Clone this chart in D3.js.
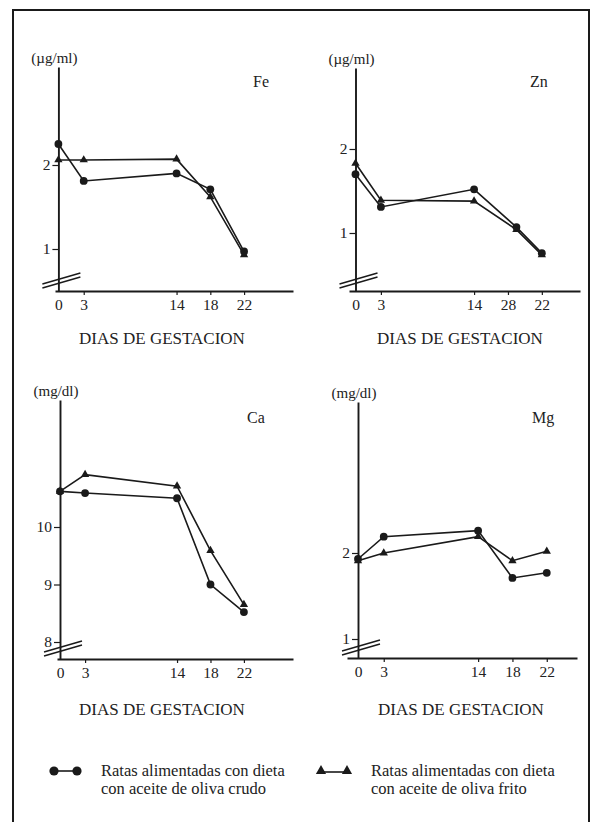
<!DOCTYPE html>
<html>
<head>
<meta charset="utf-8">
<script src="https://cdn.jsdelivr.net/npm/d3@7"></script>
<style>
    body { margin: 0; background: #fff; }
    svg { display: block; }
    text { font-family: "Liberation Serif", "Times New Roman", "DejaVu Serif", serif; fill: #222; }
</style>
</head>
<body>
<div class="chart"></div>
<script>
// days of gestation (x values) and the tick labels printed under each axis
const days = [0, 3, 14, 18, 22];
const znDays = [0, 3, 14, 19, 22];   // in the Zn panel the 4th point sits a bit right of its tick
const dayLabels = ["0", "3", "14", "18", "22"];
const znDayLabels = ["0", "3", "14", "28", "22"];

// crudo = raw olive oil (circles), frito = fried olive oil (triangles)
const feCrudo = [2.25, 1.81, 1.90, 1.71, 0.97];
const feFrito = [2.06, 2.06, 2.07, 1.62, 0.93];
const znCrudo = [1.70, 1.31, 1.52, 1.07, 0.76];
const znFrito = [1.83, 1.39, 1.38, 1.04, 0.74];
const caCrudo = [10.62, 10.59, 10.50, 9.00, 8.52];
const caFrito = [10.62, 10.91, 10.71, 9.59, 8.65];
const mgCrudo = [1.93, 2.19, 2.26, 1.71, 1.77];
const mgFrito = [1.91, 2.00, 2.19, 1.91, 2.02];

const feTicks = [1, 2];
const znTicks = [1, 2];
const caTicks = [8, 9, 10];
const mgTicks = [1, 2];

const xTitle = "DIAS DE GESTACION";
const legendCrudo = ["Ratas alimentadas con dieta", "con aceite de oliva crudo"];
const legendFrito = ["Ratas alimentadas con dieta", "con aceite de oliva frito"];

let W = 594, H = 822;
let ink = "#1a1a1a";

let svg = d3.select(".chart")
    .append("svg")
    .attr("width", W)
    .attr("height", H);

svg.append("rect").attr("width", W).attr("height", H).attr("fill", "#fff");

// frame (the bottom edge is cut off in the scan)
svg.append("path")
    .attr("d", "M13," + (H + 5) + "V10H589V" + (H + 5))
    .attr("fill", "none")
    .attr("stroke", ink)
    .attr("stroke-width", 2);

let panels = [
    {name: "Fe", unit: "(µg/ml)", days: days, labels: dayLabels, crudo: feCrudo, frito: feFrito, ticks: feTicks,
        x0: 58.4, k: 8.44, axL: 55, axR: 293, axisY: 291, topY: 67, ref: [1, 249, 2, 165],
        nameX: 253, nameY: 87, titleX: 162, titleY: 344},
    {name: "Zn", unit: "(µg/ml)", days: znDays, labels: znDayLabels, crudo: znCrudo, frito: znFrito, ticks: znTicks,
        x0: 355.5, k: 8.47, axL: 349, axR: 580, axisY: 291, topY: 68, ref: [1, 233, 2, 149],
        nameX: 530, nameY: 87, titleX: 460, titleY: 344},
    {name: "Ca", unit: "(mg/dl)", days: days, labels: dayLabels, crudo: caCrudo, frito: caFrito, ticks: caTicks,
        x0: 60, k: 8.36, axL: 57, axR: 293, axisY: 659, topY: 400, ref: [8, 642, 10, 527],
        nameX: 247, nameY: 423, titleX: 162, titleY: 715},
    {name: "Mg", unit: "(mg/dl)", days: days, labels: dayLabels, crudo: mgCrudo, frito: mgFrito, ticks: mgTicks,
        x0: 358, k: 8.58, axL: 347, axR: 577, axisY: 658, topY: 402, ref: [1, 639, 2, 553],
        nameX: 532, nameY: 423, titleX: 461, titleY: 715}
];

panels.forEach(p => drawPanel(p));

function drawPanel(p) {
    let g = svg.append("g");

    // x: pixel of day 0 and px per day, axis line runs from axL to axR
    let x = d3.scaleLinear()
        .domain([(p.axL - p.x0) / p.k, (p.axR - p.x0) / p.k])
        .range([p.axL, p.axR]);

    // y: linear through the two reference ticks
    let perUnit = (p.ref[1] - p.ref[3]) / (p.ref[2] - p.ref[0]);
    let yAt = px => p.ref[0] + (p.ref[1] - px) / perUnit;
    let y = d3.scaleLinear()
        .domain([yAt(p.axisY), yAt(p.topY)])
        .range([p.axisY, p.topY]);

    let xAxis = g.append("g")
        .attr("transform", "translate(0," + p.axisY + ")")
        .call(d3.axisBottom(x)
            .tickValues(days)
            .tickFormat((d, i) => p.labels[i])
            .tickSize(4)
            .tickSizeOuter(0)
            .tickPadding(4));
    xAxis.select(".domain").attr("stroke", ink).attr("stroke-width", 1.9);
    xAxis.selectAll(".tick line").attr("stroke", ink).attr("stroke-width", 1.2);
    xAxis.selectAll(".tick text")
        .attr("font-family", "Liberation Serif, serif")
        .attr("font-size", 15.5)
        .attr("fill", "#222");
    xAxis.selectAll(".tick").filter(d => d == 0).select("line").remove();

    let yAxis = g.append("g")
        .attr("transform", "translate(" + p.x0 + ",0)")
        .call(d3.axisLeft(y)
            .tickValues(p.ticks)
            .tickFormat(d3.format("d"))
            .tickSize(6)
            .tickSizeOuter(0)
            .tickPadding(2));
    yAxis.select(".domain").attr("stroke", ink).attr("stroke-width", 1.9);
    yAxis.selectAll(".tick line").attr("stroke", ink).attr("stroke-width", 1.2);
    yAxis.selectAll(".tick text")
        .attr("font-family", "Liberation Serif, serif")
        .attr("font-size", 15.5)
        .attr("fill", "#222");

    // axis break marks
    [8, 12].forEach(off => {
        g.append("line")
            .attr("x1", p.x0 - 16).attr("y1", p.axisY - off + 5)
            .attr("x2", p.x0 + 22).attr("y2", p.axisY - off - 6)
            .attr("stroke", ink)
            .attr("stroke-width", 1.4);
    });

    g.append("text")
        .attr("x", p.x0 - 4)
        .attr("y", p.topY - 4)
        .attr("text-anchor", "middle")
        .attr("font-size", 15)
        .text(p.unit);

    g.append("text")
        .attr("x", p.nameX)
        .attr("y", p.nameY)
        .attr("font-size", 16)
        .text(p.name);

    g.append("text")
        .attr("x", p.titleX)
        .attr("y", p.titleY)
        .attr("text-anchor", "middle")
        .attr("font-size", 17)
        .text(xTitle);

    let line = d3.line()
        .x(d => x(d.day))
        .y(d => y(d.v));

    let crudo = p.days.map((d, i) => ({day: d, v: p.crudo[i]}));
    let frito = p.days.map((d, i) => ({day: d, v: p.frito[i]}));

    [crudo, frito].forEach(s => {
        g.append("path")
            .datum(s)
            .attr("d", line)
            .attr("fill", "none")
            .attr("stroke", ink)
            .attr("stroke-width", 1.6);
    });

    g.selectAll(".tri")
        .data(frito)
        .enter()
        .append("path")
        .attr("transform", d => "translate(" + x(d.day) + "," + y(d.v) + ")")
        .attr("d", d3.symbol(d3.symbolTriangle, 30))
        .attr("fill", ink);

    g.selectAll(".dot")
        .data(crudo)
        .enter()
        .append("circle")
        .attr("cx", d => x(d.day))
        .attr("cy", d => y(d.v))
        .attr("r", 3.9)
        .attr("fill", ink);
}

// legend
let leg = svg.append("g");

leg.append("line").attr("x1", 54).attr("x2", 77).attr("y1", 771).attr("y2", 771)
    .attr("stroke", ink).attr("stroke-width", 1.6);
[54, 77].forEach(cx => {
    leg.append("circle").attr("cx", cx).attr("cy", 771).attr("r", 4.6).attr("fill", ink);
});
legendCrudo.forEach((t, i) => {
    leg.append("text").attr("x", 101).attr("y", 776 + i * 18).attr("font-size", 16.5).text(t);
});

leg.append("line").attr("x1", 321).attr("x2", 347).attr("y1", 772).attr("y2", 772)
    .attr("stroke", ink).attr("stroke-width", 1.6);
[321, 347].forEach(cx => {
    leg.append("path")
        .attr("transform", "translate(" + cx + ",771)")
        .attr("d", d3.symbol(d3.symbolTriangle, 45))
        .attr("fill", ink);
});
legendFrito.forEach((t, i) => {
    leg.append("text").attr("x", 371).attr("y", 776 + i * 18).attr("font-size", 16.5).text(t);
});
</script>
</body>
</html>
